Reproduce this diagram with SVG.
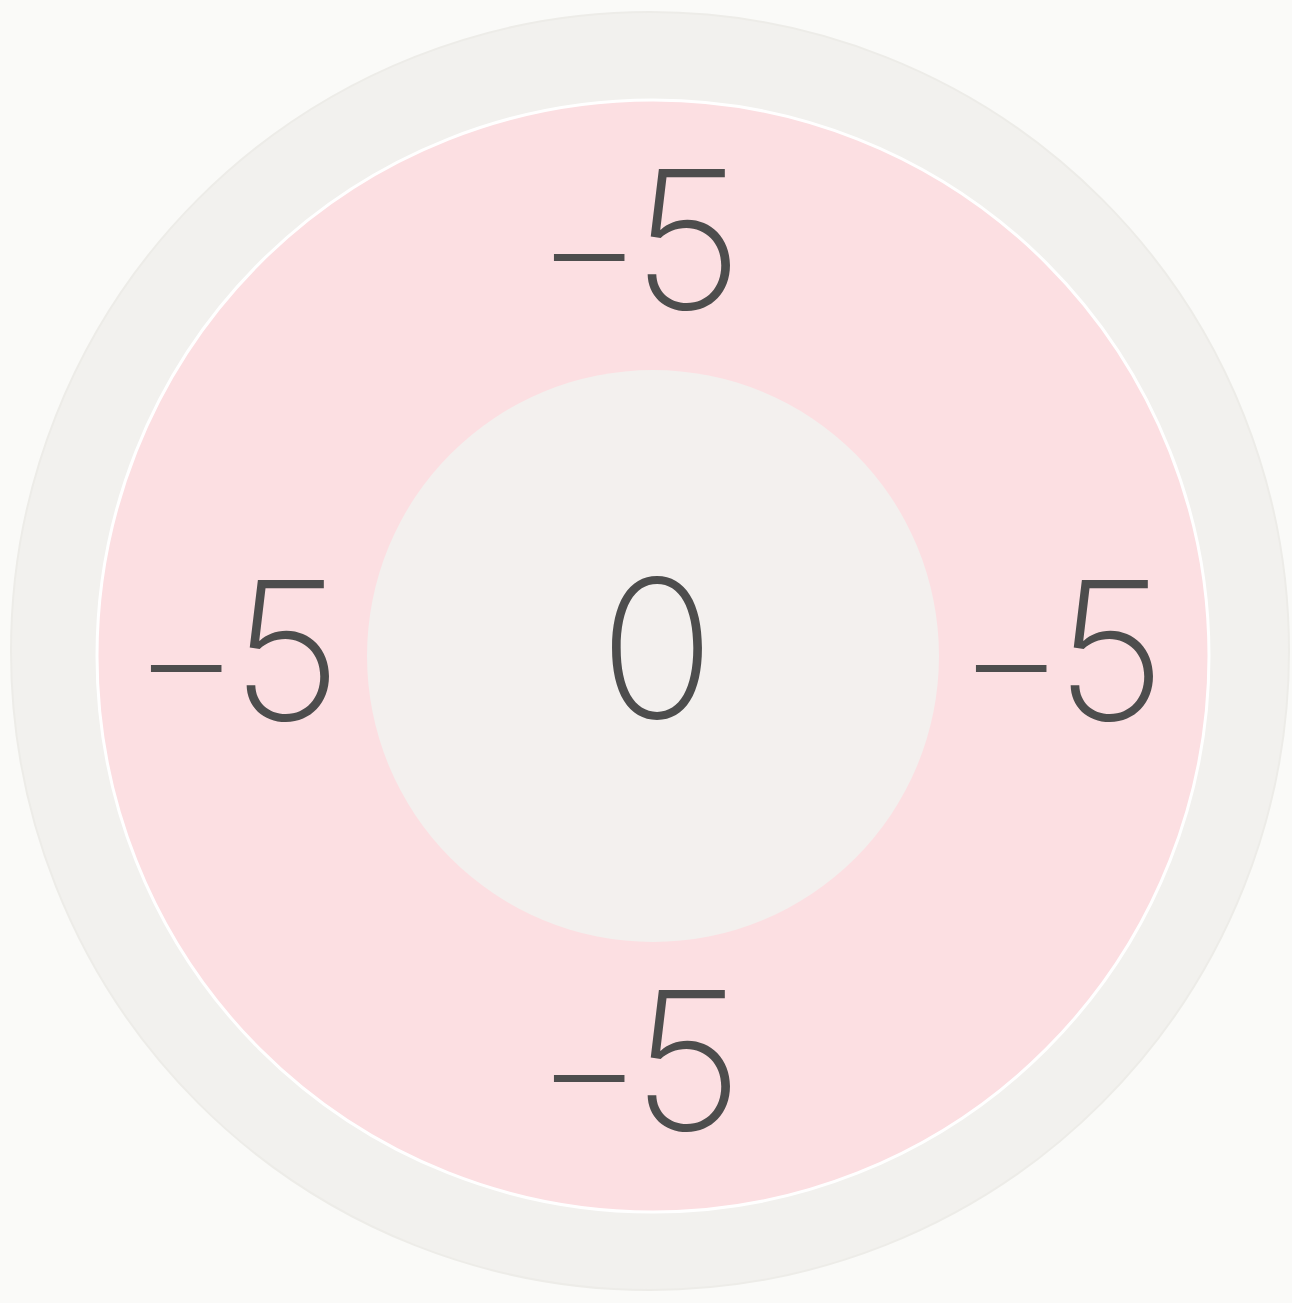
<svg xmlns="http://www.w3.org/2000/svg" width="1292" height="1303" viewBox="0 0 1292 1303">
<style>
.lbl{font-family:Inter,"Liberation Sans",sans-serif;font-weight:160;font-size:192px;fill:#4d4d4d}
.m{font-size:165px}
</style>
<rect width="1292" height="1303" fill="#fafaf8"/>
<g id="outer"><circle cx="650" cy="651" r="639" fill="#f2f1ee" stroke="#edece8" stroke-width="2"/></g>
<g id="ring"><circle cx="653" cy="656" r="556" fill="#fcdfe2" stroke="#ffffff" stroke-width="3"/></g>
<g id="center"><circle cx="653" cy="656" r="286" fill="#f3f0ee"/></g>
<g id="labels">
<text class="lbl" y="309"><tspan class="m" x="536" dy="-5">−</tspan><tspan x="632" y="309">5</tspan></text>
<text class="lbl" y="720"><tspan class="m" x="133" dy="-5">−</tspan><tspan x="231" y="720">5</tspan></text>
<text class="lbl" y="720"><tspan class="m" x="958" dy="-5">−</tspan><tspan x="1055" y="720">5</tspan></text>
<text class="lbl" y="1130"><tspan class="m" x="536" dy="-5">−</tspan><tspan x="632" y="1130">5</tspan></text>
<text class="lbl" x="657" y="718" text-anchor="middle">0</text>
</g>
</svg>
